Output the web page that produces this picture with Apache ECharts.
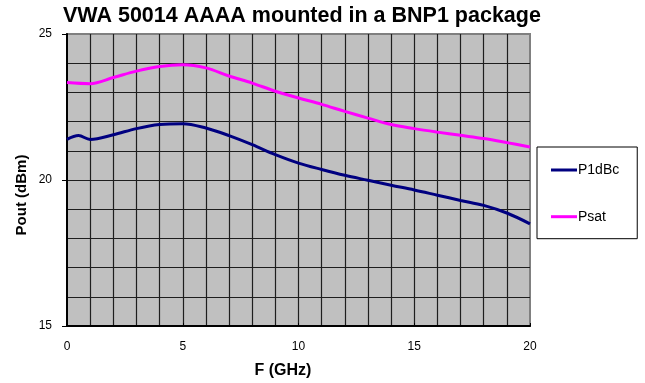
<!DOCTYPE html>
<html>
<head>
<meta charset="utf-8">
<script src="https://cdn.jsdelivr.net/npm/echarts@6/dist/echarts.min.js"></script>
<style>
html,body{margin:0;padding:0;background:#fff;}
#chart{width:645px;height:383px;}
</style>
</head>
<body>
<div id="chart"></div>
<script>
var titleText = 'VWA 50014 AAAA mounted in a BNP1 package';
var xName = 'F (GHz)';
var yName = 'Pout (dBm)';
var seriesNames = ['P1dBc', 'Psat'];
var freqP1dBc = [0, 0.5, 1, 2, 3, 4, 5, 6, 7, 8, 9, 10, 11, 12, 13, 14, 15, 16, 17, 18, 19, 20];
var valP1dBc = [21.39, 21.52, 21.39, 21.55, 21.76, 21.90, 21.93, 21.78, 21.52, 21.21, 20.87, 20.58, 20.36, 20.16, 19.99, 19.82, 19.66, 19.48, 19.30, 19.13, 18.87, 18.50];
var freqPsat = [0, 1, 2, 3, 4, 5, 6, 7, 8, 9, 10, 11, 12, 13, 14, 15, 16, 17, 18, 19, 20];
var valPsat = [23.34, 23.30, 23.51, 23.73, 23.89, 23.95, 23.84, 23.56, 23.32, 23.04, 22.81, 22.59, 22.35, 22.12, 21.90, 21.76, 21.64, 21.53, 21.42, 21.28, 21.13];
var xTicks = [0, 5, 10, 15, 20];
var yTicks = [15, 20, 25];

function pairs(xs, ys) { return xs.map(function (x, i) { return [x, ys[i]]; }); }

var FONT = '"Liberation Sans", Arial, sans-serif';
var chart = echarts.init(document.getElementById('chart'), null, {renderer: 'canvas'});
var gridLine = {show: true, lineStyle: {color: '#1e1e1e', width: 1.2}};
chart.setOption({
  animation: false,
  backgroundColor: '#ffffff',
  title: {
    text: titleText, left: 63, top: 5, padding: 0,
    textStyle: {fontFamily: FONT, fontSize: 21.5, fontWeight: 'bold', color: '#000'}
  },
  grid: {left: 67, top: 34, width: 463, height: 292, show: true, backgroundColor: '#C0C0C0', borderColor: '#808080', borderWidth: 2},
  legend: {
    orient: 'vertical', left: 537, top: 147,
    padding: [15, 18, 14, 14], itemGap: 30.7,
    itemWidth: 26, itemHeight: 3, icon: 'rect',
    backgroundColor: '#ffffff', borderColor: '#000', borderWidth: 1,
    textStyle: {fontFamily: FONT, fontSize: 14, color: '#000', lineHeight: 16, padding: [0, 0, 0, -4]},
    data: seriesNames
  },
  xAxis: {
    type: 'value', min: xTicks[0], max: xTicks[xTicks.length - 1], interval: 5,
    axisLine: {show: true, onZero: false, lineStyle: {color: '#000', width: 2}},
    axisTick: {show: true, inside: true, length: 3, lineStyle: {color: '#000', width: 1}},
    minorTick: {show: false, splitNumber: 5},
    axisLabel: {margin: 15, fontFamily: FONT, fontSize: 12, color: '#000'},
    splitLine: Object.assign({showMinLine: false, showMaxLine: false}, gridLine),
    minorSplitLine: gridLine
  },
  yAxis: {
    type: 'value', min: yTicks[0], max: yTicks[yTicks.length - 1], interval: 5,
    axisLine: {show: true, onZero: false, lineStyle: {color: '#000', width: 2}},
    axisTick: {show: true, inside: false, length: 5, lineStyle: {color: '#000', width: 1}},
    minorTick: {show: false, splitNumber: 5},
    axisLabel: {margin: 15, fontFamily: FONT, fontSize: 12, color: '#000'},
    splitLine: Object.assign({showMinLine: false, showMaxLine: false}, gridLine),
    minorSplitLine: gridLine
  },
  series: [
    {name: seriesNames[0], type: 'line', data: pairs(freqP1dBc, valP1dBc), smooth: 0.35, showSymbol: false, symbol: 'none',
     lineStyle: {color: '#000080', width: 3}, itemStyle: {color: '#000080'}},
    {name: seriesNames[1], type: 'line', data: pairs(freqPsat, valPsat), smooth: 0.35, showSymbol: false, symbol: 'none',
     lineStyle: {color: '#FF00FF', width: 3}, itemStyle: {color: '#FF00FF'}}
  ],
  graphic: [
    {type: 'text', x: 283, y: 371, style: {text: xName, font: 'bold 16px ' + FONT, fill: '#000', align: 'center', verticalAlign: 'middle'}},
    {type: 'text', x: 22, y: 195, rotation: Math.PI / 2, style: {text: yName, font: 'bold 15px ' + FONT, fill: '#000', align: 'center', verticalAlign: 'middle'}}
  ]
});
</script>
</body>
</html>
